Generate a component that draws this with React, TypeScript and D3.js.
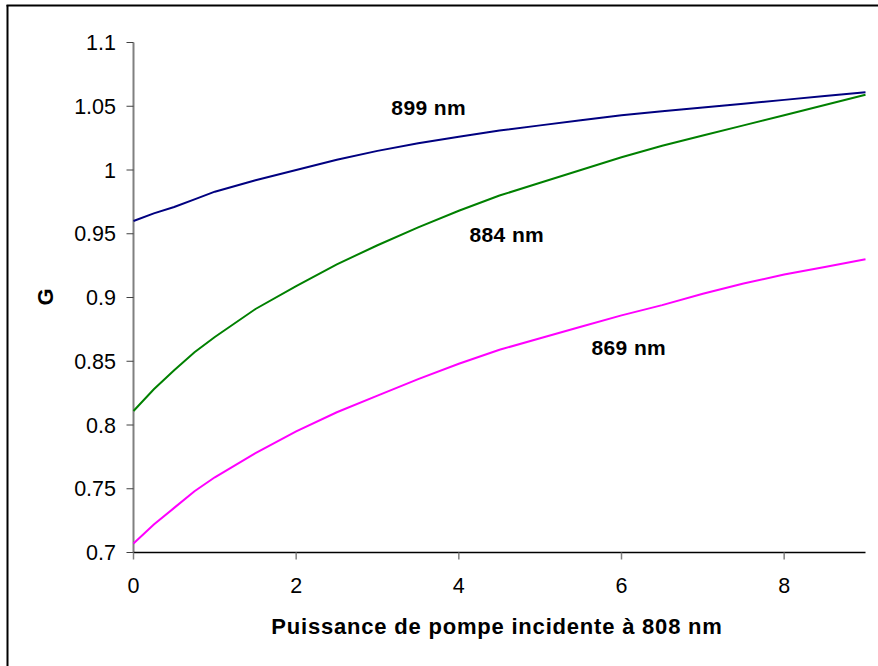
import React from "react";
import * as d3 from "d3";

const xValues = [0, 0.25, 0.5, 0.75, 1, 1.5, 2, 2.5, 3, 3.5, 4, 4.5, 5, 5.5, 6, 6.5, 7, 7.5, 8, 8.5, 9];
const g899 = [0.96, 0.966, 0.971, 0.977, 0.983, 0.992, 1.0, 1.008, 1.015, 1.021, 1.026, 1.031, 1.035, 1.039, 1.043, 1.046, 1.049, 1.052, 1.055, 1.058, 1.061];
const g884 = [0.811, 0.828, 0.843, 0.857, 0.869, 0.891, 0.909, 0.926, 0.941, 0.955, 0.968, 0.98, 0.99, 1.0, 1.01, 1.019, 1.027, 1.035, 1.043, 1.051, 1.059];
const g869 = [0.707, 0.722, 0.735, 0.748, 0.759, 0.778, 0.795, 0.81, 0.823, 0.836, 0.848, 0.859, 0.868, 0.877, 0.886, 0.894, 0.903, 0.911, 0.918, 0.924, 0.93];

const seriesNames = ["899 nm", "884 nm", "869 nm"];
const seriesColors = ["#000080", "#008000", "#ff00ff"];
const labelPos = [
  { x: 3.17, y: 1.0431 },
  { x: 4.13, y: 0.9433 },
  { x: 5.63, y: 0.855 },
];

const xTicks = [0, 2, 4, 6, 8];
const yTicks = [0.7, 0.75, 0.8, 0.85, 0.9, 0.95, 1, 1.05, 1.1];
const xTitle = "Puissance de pompe incidente à 808 nm";
const yTitle = "G";

export default function App() {
  const W = 878;
  const H = 666;
  const x = d3.scaleLinear().domain([0, 9]).range([133.5, 865.5]);
  const y = d3.scaleLinear().domain([0.7, 1.1]).range([552.5, 42.5]);
  const allSeries = [g899, g884, g869];
  const line = d3
    .line<number>()
    .x((_, i) => x(xValues[i]))
    .y((d) => y(d));
  const font = "'Liberation Sans', Arial, sans-serif";

  return (
    <svg
      width={W}
      height={H}
      style={{ position: "absolute", left: 0, top: 0, background: "#fff" }}
      fontFamily={font}
    >
      <rect x={0} y={0} width={W} height={H} fill="#fff" />
      {/* frame */}
      <line x1={7.5} y1={5} x2={7.5} y2={H} stroke="#000" strokeWidth={2} />
      <line x1={6.5} y1={5.5} x2={W} y2={5.5} stroke="#000" strokeWidth={2} />

      {/* y axis */}
      <line x1={x(0)} y1={y(1.1)} x2={x(0)} y2={y(0.7)} stroke="#808080" strokeWidth={2} />
      {yTicks.map((t) => (
        <g key={t}>
          <line x1={x(0) - 7} x2={x(0)} y1={y(t)} y2={y(t)} stroke="#404040" strokeWidth={1} />
          <text x={116} y={y(t)} dy="0.36em" textAnchor="end" fontSize={21.5} fill="#000">
            {String(t)}
          </text>
        </g>
      ))}

      {/* x axis */}
      <line x1={x(0)} y1={y(0.7)} x2={x(9)} y2={y(0.7)} stroke="#000" strokeWidth={1.5} />
      {xTicks.map((t) => (
        <g key={t}>
          <line x1={x(t)} x2={x(t)} y1={y(0.7)} y2={y(0.7) + 7} stroke="#808080" strokeWidth={1.5} />
          <text x={x(t)} y={593} textAnchor="middle" fontSize={21.5} fill="#000">
            {String(t)}
          </text>
        </g>
      ))}

      {/* series */}
      {allSeries.map((s, i) => (
        <path key={i} d={line(s) || ""} fill="none" stroke={seriesColors[i]} strokeWidth={2} />
      ))}

      {/* labels */}
      {seriesNames.map((n, i) => (
        <text
          key={n}
          x={x(labelPos[i].x)}
          y={y(labelPos[i].y)}
          fontSize={21}
          fontWeight="bold"
          letterSpacing={0.4}
          fill="#000"
        >
          {n}
        </text>
      ))}

      {/* titles */}
      <text
        x={497}
        y={634}
        textAnchor="middle"
        fontSize={22}
        fontWeight="bold"
        letterSpacing={0.8}
        fill="#000"
      >
        {xTitle}
      </text>
      <text
        transform={`translate(53, 297) rotate(-90)`}
        textAnchor="middle"
        fontSize={22}
        fontWeight="bold"
        fill="#000"
      >
        {yTitle}
      </text>
    </svg>
  );
}
